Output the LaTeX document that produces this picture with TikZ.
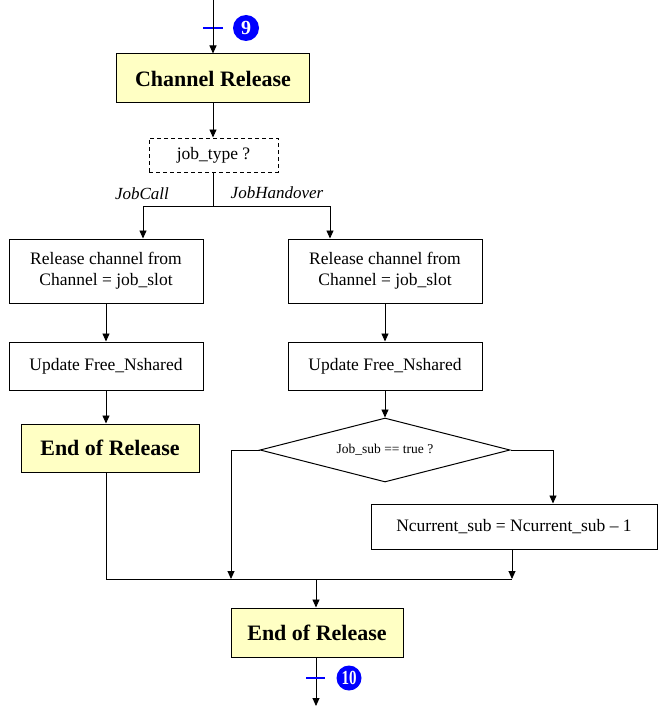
\documentclass[tikz,border=0pt]{standalone}
\usepackage{fontspec}
\usepackage{graphicx}
\setmainfont{Liberation Serif}
\usetikzlibrary{arrows.meta,shapes.geometric}
\definecolor{notefill}{RGB}{255,255,196}
\definecolor{markblue}{RGB}{0,0,255}
\begin{document}
\begin{tikzpicture}[x=1pt,y=-1pt,
  line width=0.9pt,
  flow/.style={-{Triangle[length=8pt,width=7pt]}},
  box/.style={draw, line width=1pt, inner sep=0pt, align=center,
              font=\fontsize{17.5}{21}\selectfont},
  headbox/.style={box, fill=notefill, font=\bfseries\fontsize{22}{24}\selectfont},
  querybox/.style={box, dashed, dash pattern=on 4pt off 3pt},
  decision/.style={draw, line width=1pt, diamond, inner sep=0pt, shape aspect=3.9,
                   font=\fontsize{13.5}{15}\selectfont},
  branchlbl/.style={inner sep=0pt, font=\itshape\fontsize{17}{19}\selectfont},
  tick/.style={markblue, line width=1.1pt},
  marker/.style={circle, fill=markblue, inner sep=0pt, minimum size=26pt,
                 text=white, font=\bfseries\fontsize{20}{20}\selectfont}
]
\useasboundingbox (0,0) rectangle (657,706);

% entry point with connector marker 9
\coordinate (entry) at (213,0);
\draw[tick] (203,28) -- (223,28);
\node[marker] (m9) at (246,28) {9};

% boxes
\node[headbox, minimum width=193pt, minimum height=49pt] (cr) at (213,78.5) {Channel Release};
\node[querybox, minimum width=129pt, minimum height=34pt] (jt) at (213.5,155) {job\_type ?};

\node[box, minimum width=194pt, minimum height=64pt] (rel1) at (106,271) {Release channel from\\Channel = job\_slot};
\node[box, minimum width=194pt, minimum height=64pt] (rel2) at (385,271) {Release channel from\\Channel = job\_slot};

\node[box, minimum width=194pt, minimum height=48pt] (upd1) at (106,366) {Update Free\_Nshared};
\node[box, minimum width=194pt, minimum height=48pt] (upd2) at (385,366) {Update Free\_Nshared};

\node[headbox, minimum width=178pt, minimum height=48pt] (eor1) at (110,448) {End of Release};
\node[decision, minimum width=250pt, minimum height=64pt] (dec) at (385,450) {Job\_sub == true ?};
\node[box, minimum width=286pt, minimum height=45pt] (nc) at (514,526.5) {Ncurrent\_sub = Ncurrent\_sub -- 1};

\node[headbox, minimum width=172pt, minimum height=49pt] (eor2) at (317,632.5) {End of Release};

% branch labels
\node[branchlbl] (lblcall) at (142,194) {JobCall};
\node[branchlbl] (lblhand) at (277,193) {JobHandover};

% routing points
\coordinate (fork) at (213,206);
\coordinate (forkL) at (143,206);
\coordinate (forkR) at (330,206);
\coordinate (decL) at (231,450);
\coordinate (decR) at (553,450);
\coordinate (joinL) at (106,579);
\coordinate (joinR) at (512,579);
\coordinate (merge) at (316,579);
\coordinate (exit) at (316,706);

% connectors
\draw[flow] (entry) -- (entry |- cr.north);
\draw[flow] (cr.south) -- (jt.north -| cr.south);
\draw (jt.south -| fork) -- (fork);
\draw[flow] (forkL) -- (forkR) -- (forkR |- rel2.north);
\draw[flow] (forkL) -- (forkL |- rel1.north);
\draw[flow] (rel1.south) -- (upd1.north);
\draw[flow] (rel2.south) -- (upd2.north);
\draw[flow] (upd1.south) -- (upd1.south |- eor1.north);
\draw[flow] (upd2.south) -- (dec.north);
\draw[flow] (dec.west) -- (decL) -- (decL |- joinL);
\draw[flow] (dec.east) -- (decR) -- (decR |- nc.north);
\draw[flow] (nc.south -| joinR) -- (joinR);
\draw (eor1.south -| joinL) -- (joinL) -- (joinR);
\draw[flow] (merge) -- (merge |- eor2.north);
\draw[flow] (eor2.south -| merge) -- (exit);

% exit marker 10
\draw[tick] (306,678) -- (325,678);
\node[marker, minimum size=25pt] (m10) at (349,678) {\scalebox{0.75}[1]{10}};
\end{tikzpicture}
\end{document}
